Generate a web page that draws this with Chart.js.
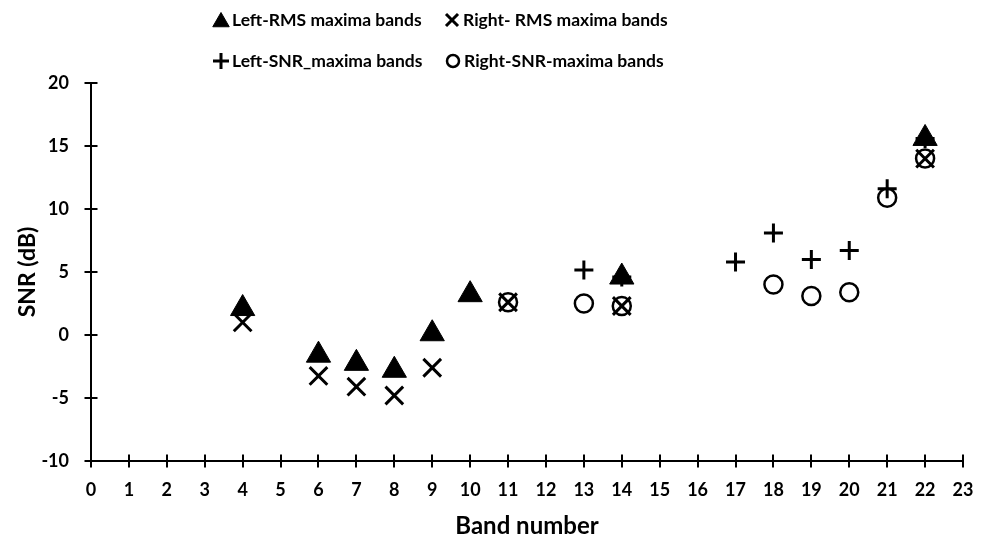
<!DOCTYPE html>
<html>
<head>
<meta charset="utf-8">
<script src="https://cdn.jsdelivr.net/npm/chart.js@4"></script>
<style>
  html,body{margin:0;padding:0;background:#fff;}
  #wrap{width:987px;height:539px;position:relative;}
</style>
</head>
<body>
<div id="wrap"><canvas id="c"></canvas></div>
<script>
// band numbers and SNR (dB)
const leftRmsBands = [4, 6, 7, 8, 9, 10, 14, 22];
const leftRmsSnr   = [2.1, -1.6, -2.25, -2.8, 0.1, 3.2, 4.6, 15.6];
const rightRmsBands = [4, 6, 7, 8, 9, 11, 14, 22];
const rightRmsSnr   = [1.0, -3.25, -4.1, -4.8, -2.6, 2.6, 2.3, 14.0];
const leftSnrBands = [13, 14, 17, 18, 19, 20, 21, 22];
const leftSnrSnr   = [5.15, 4.6, 5.8, 8.1, 6.0, 6.7, 11.6, 15.6];
const rightSnrBands = [11, 13, 14, 18, 19, 20, 21, 22];
const rightSnrSnr   = [2.6, 2.5, 2.3, 4.0, 3.1, 3.4, 10.9, 14.0];

const seriesNames = ['Left-RMS maxima bands', 'Right- RMS maxima bands', 'Left-SNR_maxima bands', 'Right-SNR-maxima bands'];
const xTicksMax = 23;
const yMin = -10, yMax = 20, yStep = 5;

const FONT = 'Lato, "Open Sans", sans-serif';
const pts = (xs, ys) => xs.map((x, i) => ({x, y: ys[i]}));

// ticks in this chart cross the axis line on both sides
const crossTicks = {
  id: 'crossTicks',
  afterDraw(chart){
    const {ctx, scales:{x, y}} = chart;
    const half = 6.5;
    ctx.save();
    ctx.strokeStyle = '#000'; ctx.lineWidth = 2;
    ctx.beginPath();
    x.ticks.forEach(t=>{ const px = Math.round(x.getPixelForValue(t.value)); ctx.moveTo(px, y.bottom-half); ctx.lineTo(px, y.bottom+half); });
    y.ticks.forEach(t=>{ const py = Math.round(y.getPixelForValue(t.value)); ctx.moveTo(x.left-half, py); ctx.lineTo(x.left+half, py); });
    ctx.stroke();
    ctx.restore();
  }
};

// 2x2 legend above the plot, like the original
const gridLegend = {
  id: 'gridLegend',
  afterDraw(chart){
    const ctx = chart.ctx;
    const cells = [[221, 20], [452, 20], [221, 61], [453, 61]];
    const icons = [
      {pointStyle:'triangle', radius:9.5, fill:'#000', lw:1},
      {pointStyle:'crossRot', radius:8.5, fill:'#000', lw:3},
      {pointStyle:'cross', radius:8, fill:'#000', lw:3},
      {pointStyle:'circle', radius:6, fill:'rgba(0,0,0,0)', lw:2.5}
    ];
    ctx.save();
    ctx.font = 'bold 17.5px ' + FONT;
    ctx.textBaseline = 'middle';
    chart.data.datasets.forEach((ds, i)=>{
      const [cx, cy] = cells[i];
      const ic = icons[i];
      ctx.strokeStyle = '#000'; ctx.fillStyle = ic.fill; ctx.lineWidth = ic.lw;
      Chart.helpers.drawPoint(ctx, {pointStyle: ic.pointStyle, radius: ic.radius, borderWidth: ic.lw, rotation: 0}, cx, ic.pointStyle==='triangle' ? cy+2 : cy);
      ctx.fillStyle = '#000';
      ctx.fillText(ds.label, cx + 11, cy);
    });
    ctx.restore();
  }
};

const ds = (label, data, style, r, bw, bg) => ({
  label, data, pointStyle: style, pointRadius: r, pointHoverRadius: r,
  borderColor: '#000', backgroundColor: bg, pointBorderWidth: bw, borderWidth: bw, showLine: false
});

new Chart(document.getElementById('c'), {
  type: 'scatter',
  data: {
    datasets: [
      ds(seriesNames[0], pts(leftRmsBands, leftRmsSnr), 'triangle', 14, 1, '#000'),
      ds(seriesNames[1], pts(rightRmsBands, rightRmsSnr), 'crossRot', 12.5, 3, '#000'),
      ds(seriesNames[2], pts(leftSnrBands, leftSnrSnr), 'cross', 9.5, 3, '#000'),
      ds(seriesNames[3], pts(rightSnrBands, rightSnrSnr), 'circle', 9, 2.5, 'rgba(0,0,0,0)')
    ]
  },
  options: {
    responsive: true,
    maintainAspectRatio: false,
    animation: false,
    layout: { padding: { top: 83, right: 24, left: 0, bottom: 0 } },
    plugins: { legend: { display: false }, tooltip: { enabled: false } },
    scales: {
      x: {
        type: 'linear', min: 0, max: xTicksMax,
        ticks: { stepSize: 1, padding: 10, color: '#000', font: { family: FONT, size: 18, weight: 'bold' } },
        grid: { display: false },
        border: { display: true, color: '#000', width: 2 },
        title: { display: true, text: 'Band number', color: '#000', padding: { top: 0, bottom: -2 }, font: { family: FONT, size: 24, weight: 'bold' } },
        afterFit: s => { s.height = 78; }
      },
      y: {
        type: 'linear', min: yMin, max: yMax,
        ticks: { stepSize: yStep, padding: 14, color: '#000', font: { family: FONT, size: 18, weight: 'bold' } },
        grid: { display: false },
        border: { display: true, color: '#000', width: 2 },
        title: { display: true, text: 'SNR (dB)', color: '#000', padding: { top: 14, bottom: 0 }, font: { family: FONT, size: 23, weight: 'bold' } },
        afterFit: s => { s.width = 91; }
      }
    }
  },
  plugins: [crossTicks, gridLegend]
});
</script>
</body>
</html>
